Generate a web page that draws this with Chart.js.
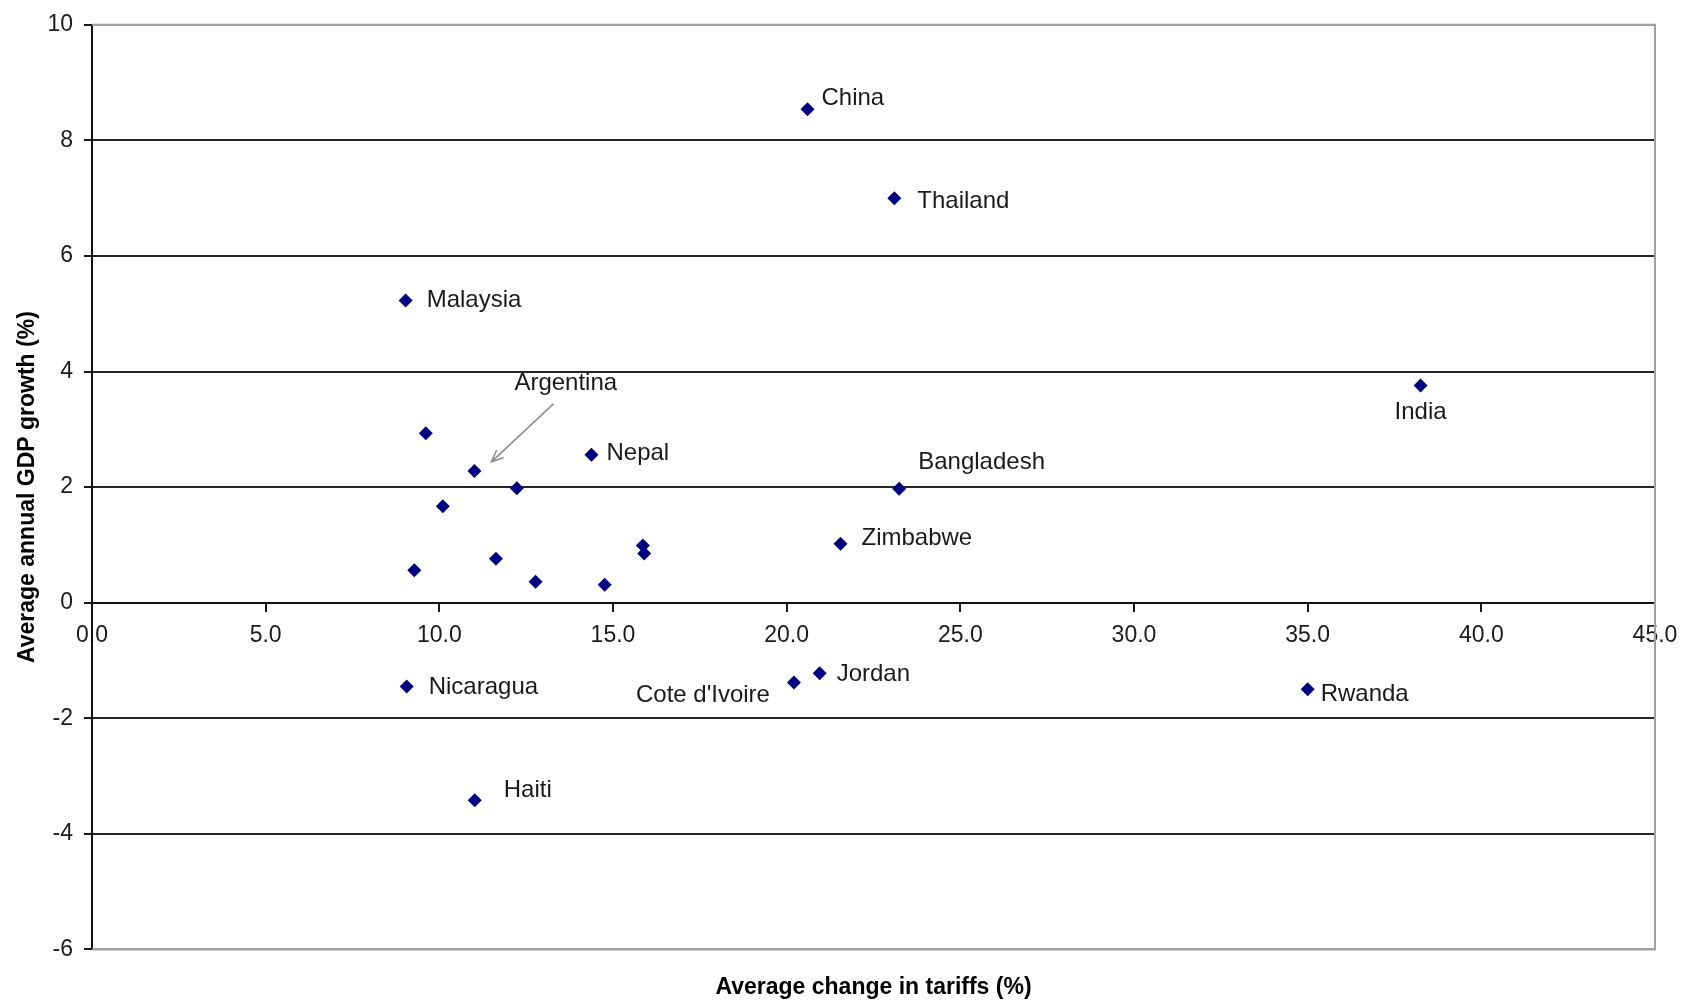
<!DOCTYPE html>
<html>
<head>
<meta charset="utf-8">
<title>Tariffs and GDP growth</title>
<script src="https://cdn.jsdelivr.net/npm/chart.js@4"></script>
<style>
  html, body { margin: 0; padding: 0; background: #fff; }
  #wrap { width: 1682px; height: 1003px; }
</style>
</head>
<body>
<div id="wrap"><canvas id="myChart"></canvas></div>
<script>
const countries = ['China', 'Thailand', 'Malaysia', 'India', '', 'Argentina', 'Nepal', '', 'Bangladesh', '',
  '', '', 'Zimbabwe', '', '', '', '', 'Nicaragua', "Cote d'Ivoire", 'Jordan', 'Rwanda', 'Haiti']
const tariffChange = [20.6, 23.1, 9.03, 38.25, 9.61, 11.01, 14.38, 12.23, 23.24, 10.1,
  15.86, 15.9, 21.55, 9.28, 11.63, 12.77, 14.76, 9.06, 20.21, 20.95, 35.0, 11.02]
const gdpGrowth = [8.54, 7.0, 5.23, 3.76, 2.93, 2.28, 2.56, 1.98, 1.97, 1.67,
  0.99, 0.85, 1.02, 0.56, 0.76, 0.36, 0.31, -1.45, -1.38, -1.22, -1.5, -3.42]
const xTickLabels = ['0.0', '5.0', '10.0', '15.0', '20.0', '25.0', '30.0', '35.0', '40.0', '45.0']
const yTickLabels = ['-6', '-4', '-2', '0', '2', '4', '6', '8', '10']

// label placement relative to each point, in pixels: [dx, dy, align]
const labelOffsets = [[14, -11, 'left'], [23, 3, 'left'], [21, 0, 'left'], [0, 27, 'center'], null,
  [40, -88, 'left'], [15, -1, 'left'], null, [19, -26, 'left'], null,
  null, null, [21, -5, 'left'], null, null, null, null, [22, 1, 'left'],
  [-24, 13, 'right'], [17, 1, 'left'], [13, 5, 'left'], [29, -10, 'left']]

const markerColor = '#000080'
const textColor = '#1a1a1a'
const fontFamily = '"Liberation Sans", Arial, sans-serif'

Chart.defaults.font.family = fontFamily
Chart.defaults.font.size = 23
Chart.defaults.color = textColor

const pointLabels = {
  id: 'pointLabels',
  afterDatasetsDraw(chart) {
    var ctx = chart.ctx
    var meta = chart.getDatasetMeta(0)
    ctx.save()
    ctx.font = '24px ' + fontFamily
    ctx.fillStyle = textColor
    ctx.textBaseline = 'middle'
    for (var i = 0; i < meta.data.length; i++) {
      var off = labelOffsets[i]
      if (!off || !countries[i]) continue
      var pt = meta.data[i]
      ctx.textAlign = off[2]
      ctx.fillText(countries[i], pt.x + off[0], pt.y + off[1])
    }

    // arrow pointing at Argentina
    var arg = meta.data[countries.indexOf('Argentina')]
    var x1 = arg.x + 79, y1 = arg.y - 67
    var x2 = arg.x + 17, y2 = arg.y - 9
    var ang = Math.atan2(y2 - y1, x2 - x1)
    ctx.strokeStyle = '#8c8c8c'
    ctx.lineWidth = 1.5
    ctx.beginPath()
    ctx.moveTo(x1, y1)
    ctx.lineTo(x2, y2)
    ctx.moveTo(x2 - 13 * Math.cos(ang - 0.4), y2 - 13 * Math.sin(ang - 0.4))
    ctx.lineTo(x2, y2)
    ctx.lineTo(x2 - 13 * Math.cos(ang + 0.4), y2 - 13 * Math.sin(ang + 0.4))
    ctx.stroke()
    ctx.restore()
  }
}

const areaBorder = {
  id: 'areaBorder',
  beforeDatasetsDraw(chart) {
    var a = chart.chartArea
    var ctx = chart.ctx
    ctx.save()
    ctx.strokeStyle = '#a0a0a0'
    ctx.lineWidth = 2
    ctx.beginPath()
    ctx.moveTo(a.left, a.top)
    ctx.lineTo(a.right, a.top)
    ctx.lineTo(a.right, a.bottom)
    ctx.lineTo(a.left, a.bottom)
    ctx.stroke()
    ctx.restore()
  }
}

var points = []
for (var i = 0; i < tariffChange.length; i++) {
  points.push({ x: tariffChange[i], y: gdpGrowth[i] })
}

var ctx = document.getElementById('myChart')
var scatterChart = new Chart(ctx, {
  type: 'scatter',
  data: {
    datasets: [{
      data: points,
      pointStyle: 'rectRot',
      pointRadius: 7,
      backgroundColor: markerColor,
      borderColor: markerColor,
      borderWidth: 0
    }]
  },
  options: {
    responsive: true,
    maintainAspectRatio: false,
    animation: false,
    events: [],
    layout: { padding: { top: 22, right: 27, left: 0, bottom: 0 } },
    plugins: {
      legend: { display: false },
      tooltip: { enabled: false }
    },
    scales: {
      x: {
        type: 'linear',
        position: { y: 0 },
        min: 0,
        max: 45,
        ticks: {
          stepSize: 5,
          padding: 11,
          maxRotation: 0,
          autoSkip: false,
          color: textColor,
          callback: (v, idx) => xTickLabels[idx]
        },
        grid: { drawOnChartArea: false, drawTicks: true, tickLength: 8, tickColor: '#1a1a1a', lineWidth: 2 },
        border: { color: '#111', width: 2 },
        afterFit: (scale) => {
          scale.height = 0
          scale.paddingLeft = 0
          scale.paddingRight = 0
        }
      },
      xTitle: {
        type: 'linear',
        axis: 'x',
        position: 'bottom',
        min: 0,
        max: 45,
        ticks: { display: false },
        grid: { display: false },
        border: { display: false },
        title: {
          display: true,
          text: 'Average change in tariffs (%)',
          color: '#000',
          font: { size: 23, weight: 'bold' },
          padding: { top: 16, bottom: 2 }
        }
      },
      y: {
        min: -6,
        max: 10,
        ticks: {
          stepSize: 2,
          padding: 11,
          color: textColor,
          callback: (v, idx) => yTickLabels[idx]
        },
        grid: {
          color: (c) => (c.tick && (c.tick.value === 10 || c.tick.value === -6)) ? '#a0a0a0' : '#262626',
          lineWidth: 2,
          tickLength: 8,
          tickColor: '#1a1a1a'
        },
        border: { color: '#111', width: 2 },
        title: {
          display: true,
          text: 'Average annual GDP growth (%)',
          color: '#000',
          font: { size: 23, weight: 'bold' },
          padding: { top: 14, bottom: 0 }
        },
        afterFit: (scale) => { scale.width = 92 }
      }
    }
  },
  plugins: [areaBorder, pointLabels]
})
</script>
</body>
</html>
